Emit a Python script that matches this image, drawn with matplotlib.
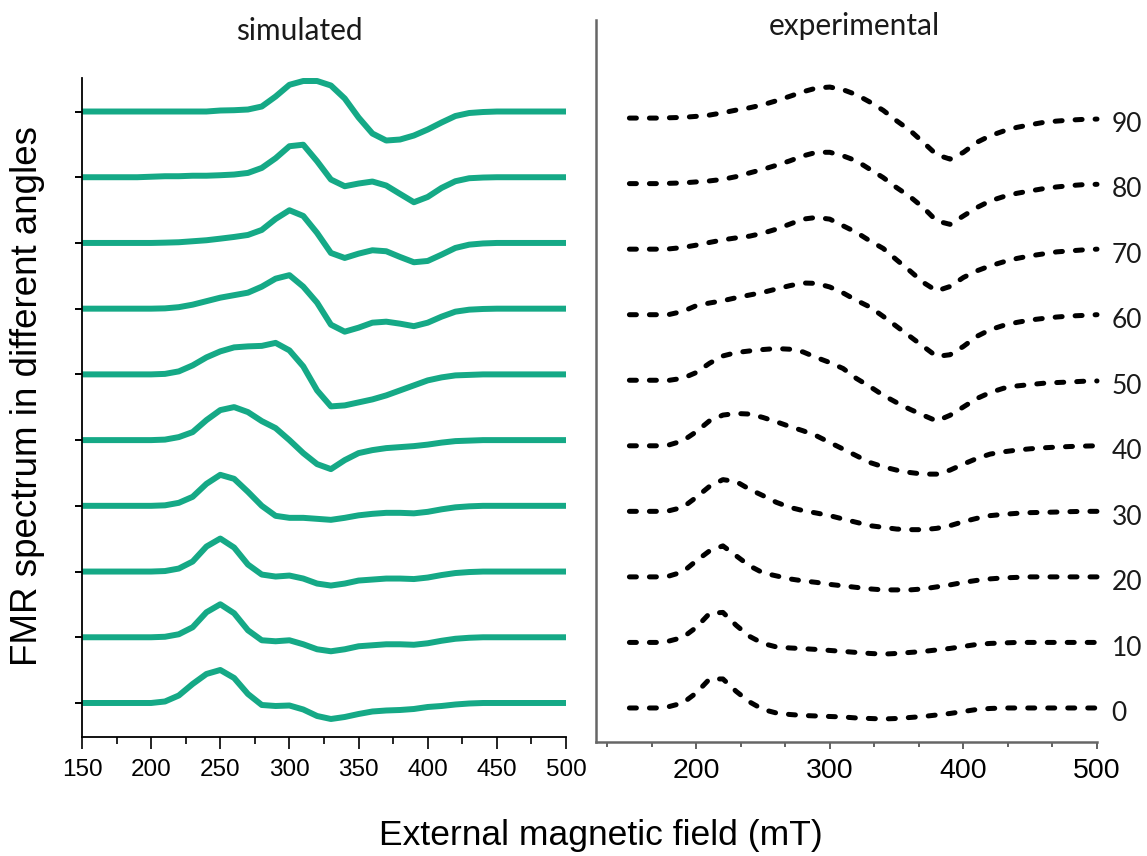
import matplotlib
matplotlib.use("Agg")
import matplotlib.pyplot as plt
import numpy as np
from matplotlib.ticker import MultipleLocator, NullFormatter

# field axis (mT), spectra sampled every 10 mT
FIELD = np.arange(150, 501, 10)
ANGLES = [0, 10, 20, 30, 40, 50, 60, 70, 80, 90]

# simulated FMR derivative spectra (a.u.), one list per angle
SIM = {
    0:  [0, 0, 0, 0, 0, 0, 1.5, 7.5, 19, 29, 33, 25, 9, -2, -3, -2.5, -6.5, -13, -16, -14,
         -11, -8.5, -7.5, -7, -6, -4, -3, -1.5, -0.5, 0, 0, 0, 0, 0, 0, 0],
    10: [0, 0, 0, 0, 0, 0, 0.5, 3, 10, 25, 33, 24, 7, -3, -4, -3, -7, -12, -14, -12,
         -9, -8, -7, -7, -7.5, -6, -3.5, -1.5, -0.5, 0, 0, 0, 0, 0, 0, 0],
    20: [0, 0, 0, 0, 0, 0, 0.5, 3, 10, 25, 33, 24, 7, -3, -5, -4, -7, -12, -14, -12,
         -9, -8, -7, -7, -7.5, -6, -3.5, -1.5, -0.5, 0, 0, 0, 0, 0, 0, 0],
    30: [0, 0, 0, 0, 0, 0, 0.5, 3, 9, 22, 31, 27, 14, 0, -10, -12, -12, -13, -14, -12,
         -9.5, -8, -7, -7, -7.5, -6, -3.5, -1.5, -0.5, 0, 0, 0, 0, 0, 0, 0],
    40: [0, 0, 0, 0, 0, 0, 0.5, 3, 8, 20, 30, 33, 28, 19, 12, 0, -13, -24, -29, -20,
         -13, -10, -8, -7, -6, -4.5, -2.5, -1, -0.5, 0, 0, 0, 0, 0, 0, 0],
    50: [0, 0, 0, 0, 0, 0, 0.5, 3, 9, 17, 23, 27, 28, 28.5, 31.5, 24, 8, -16, -32, -31,
         -28, -25, -21, -16, -11, -6, -3, -1, -0.5, 0, 0, 0, 0, 0, 0, 0],
    60: [0, 0, 0, 0, 0, 0, 0.3, 1.5, 4, 7.5, 11, 13.5, 16, 22, 30, 33.5, 22, 6, -16, -23,
         -19, -14, -13, -15, -17.5, -14, -8, -3, -1, -0.3, 0, 0, 0, 0, 0, 0],
    70: [0, 0, 0, 0, 0, 0, 0.3, 0.7, 1.7, 2.7, 4.3, 6, 8, 13, 24, 32.7, 27, 10, -10, -15,
         -10.7, -7.3, -8.3, -14, -19.3, -18, -11.7, -5, -1.7, -0.5, 0, 0, 0, 0, 0, 0],
    80: [0, 0, 0, 0, 0, 0.5, 1, 1, 1.5, 1.5, 2, 2.7, 4.3, 9.3, 19, 31, 32.5, 16, -2.3, -9,
         -6.3, -4.3, -8.3, -16.7, -25, -19.7, -10.7, -4, -1, -0.3, 0, 0, 0, 0, 0, 0],
    90: [0, 0, 0, 0, 0, 0, 0, 0, 0, 0, 1, 1.3, 2, 5, 15, 26.7, 30.5, 30.5, 26, 13,
         -6, -22, -29, -28, -24, -18, -11, -4.5, -1.5, -0.5, 0, 0, 0, 0, 0, 0],
}

# measured FMR derivative spectra (a.u.)
EXP = {
    0:  [0, 0, 0, 1.5, 5, 15, 29, 29, 16.5, 6, -1.5, -5, -6.5, -7.5, -8, -8.5, -9, -10, -10.5, -11,
         -10.5, -9.5, -8.5, -7, -5.5, -3.5, -1.5, -0.5, 0, 0, 0, 0, 0, 0, 0, 0],
    10: [0, 0, 0, 1.5, 5, 15, 29, 30, 17, 6, -1, -4.5, -5.5, -6.2, -7, -8, -9, -10, -11, -11.7,
         -11, -10, -9, -7.5, -6, -4, -2, -1, -0.5, 0, 0, 0, 0, 0, 0, 0],
    20: [0, 0, 0, 1, 5, 16, 26, 31, 21, 11, 4, 1, -2, -4, -5.5, -7.5, -9, -10.5, -12, -13,
         -13, -13, -12, -10, -8, -5.5, -3.5, -2, -1, -0.5, 0, 0, 0, 0, 0, 0],
    30: [0, 0, 0, 0.7, 4, 14, 25, 31.7, 29.7, 22, 15.7, 9, 4, 0.7, -1.7, -4.3, -7.7, -11, -14.3, -16,
         -17.7, -18.3, -18.3, -17, -14.3, -10.3, -7, -4.3, -3, -2, -1.3, -1, -0.7, -0.3, 0, 0],
    40: [0, 0, 0, 1, 5, 14, 25, 30.7, 32.3, 31.7, 28.3, 24, 19.3, 15, 10, 3.3, -3.3, -10, -16.7, -21,
         -24.3, -26.7, -28.3, -28.3, -24.3, -18.3, -12.7, -8.3, -6, -4.3, -3, -2, -1.3, -0.7, -0.3, 0],
    50: [0, 0, 0, 0, 2, 7.7, 17, 24.3, 27.7, 29.3, 30.7, 31.7, 31, 28.3, 22.7, 17.7, 11.7, 1.7, -6.3, -15,
         -22.3, -29, -35, -40.7, -35, -26.7, -18.3, -12.3, -8, -5.7, -4.3, -3, -2.3, -1.7, -1, -0.7],
    60: [0, 0, 0, 0.3, 3.3, 9, 11.7, 14, 17, 19.7, 22.3, 25.7, 29, 31.7, 31.3, 27.7, 21.7, 14.3, 7.7, -1.7,
         -11.7, -21.7, -31.7, -41.7, -40, -31.7, -21.7, -15, -10.7, -7.7, -5.3, -3.7, -2.3, -1.3, -0.7, 0],
    70: [0, 0, 0, 0.3, 1.7, 4, 6.7, 9.3, 11.3, 13, 16, 20, 25, 30, 31.7, 30, 23.3, 16.7, 8.3, 0.7,
         -10.7, -21.7, -33.3, -41.7, -37.3, -28.3, -21.7, -16.7, -12.7, -9.3, -6.7, -4.7, -2.7, -1.7, -0.7, 0],
    80: [0, 0, 0, 0.3, 0.7, 1.7, 2.7, 4.3, 7, 10.7, 14.3, 18.3, 22.7, 27.7, 31.3, 31.3, 27.7, 22.7, 14.3, 6,
         -4, -13, -24, -37.3, -40.7, -32.3, -24, -17.3, -13, -9.7, -7.3, -5, -3.3, -2, -1, -0.7],
    90: [0, 0, 0, 0.3, 0.7, 1.7, 3, 5.3, 8, 10.3, 13.3, 17.3, 21.7, 26.3, 30, 31, 28.3, 23.3, 16, 7.7,
         -2.7, -12.3, -24.3, -36.7, -41, -34.3, -24.3, -17.7, -13, -9.3, -6.7, -4.3, -3, -2, -1.3, -1],
}

SIM_STEP = 65.7   # vertical offset between stacked spectra
EXP_STEP = 65.5
GREEN = "#15a986"
SANS = ["Liberation Sans", "DejaVu Sans"]
NARROW = ["Liberation Sans Narrow", "Liberation Sans", "DejaVu Sans"]
SOFT = ["Lato", "DejaVu Sans"]

fig = plt.figure(figsize=(11.47, 8.56), dpi=100)
W, H = 1147, 856
ax1 = fig.add_axes([82 / W, 1 - 737 / H, 484 / W, 659 / H])
ax2 = fig.add_axes([596 / W, 1 - 742 / H, 501 / W, 722 / H])

# ── simulated ─────────────────────────────────────────────
for k, ang in enumerate(ANGLES):
    ax1.plot(FIELD, np.array(SIM[ang]) + k * SIM_STEP, color=GREEN, lw=4.3,
             solid_joinstyle="round", solid_capstyle="butt", clip_on=False)
ax1.set_xlim(150, 500)
ax1.set_ylim(-34, 9 * SIM_STEP + 33.5)
ax1.set_yticks([k * SIM_STEP for k in range(len(ANGLES))])
ax1.yaxis.set_major_formatter(NullFormatter())
ax1.xaxis.set_major_locator(MultipleLocator(50))
ax1.xaxis.set_minor_locator(MultipleLocator(25))
ax1.tick_params(axis="y", length=5, width=1.4, direction="out")
ax1.tick_params(axis="x", which="major", length=8.5, width=1.2, pad=7.5,
                labelsize=17.5)
ax1.tick_params(axis="x", which="minor", length=4.8, width=1.2)
for lab in ax1.get_xticklabels():
    lab.set_family(NARROW)
for s in ("top", "right"):
    ax1.spines[s].set_visible(False)
for s in ("left", "bottom"):
    ax1.spines[s].set_linewidth(1.3)
    ax1.spines[s].set_color("black")

# ── experimental ──────────────────────────────────────────
for k, ang in enumerate(ANGLES):
    base = k * EXP_STEP
    ax2.plot(FIELD, np.array(EXP[ang]) + base, color="black", lw=3.6,
             linestyle=(0, (1.4, 2.6)), dash_capstyle="round", clip_on=False)
    ax2.text(511, base - 6, str(ang), fontsize=19, family=SOFT, color="#1a1a1a",
             ha="left", va="center", clip_on=False)
ax2.set_xlim(125, 500)
ax2.set_ylim(-34, 9 * EXP_STEP + 98)
ax2.set_yticks([])
ax2.xaxis.set_major_locator(MultipleLocator(100))
ax2.xaxis.set_minor_locator(MultipleLocator(100 / 3))
ax2.tick_params(axis="x", which="major", length=5, width=1.3, pad=6.5,
                labelsize=20.5, color="#555555")
ax2.tick_params(axis="x", which="minor", length=3.6, width=1.3, color="#555555")
for lab in ax2.get_xticklabels():
    lab.set_family(SANS)
for s in ("top", "right"):
    ax2.spines[s].set_visible(False)
for s in ("left", "bottom"):
    ax2.spines[s].set_linewidth(1.8)
    ax2.spines[s].set_color("#666666")

# panel titles and shared axis labels
fig.text(299 / W, 1 - 40 / H, "simulated", fontsize=21.5, family=SOFT,
         ha="center", va="baseline", color="#1a1a1a")
fig.text(854 / W, 1 - 35 / H, "experimental", fontsize=21.5, family=SOFT,
         ha="center", va="baseline", color="#1a1a1a")
fig.text(28 / W, 1 - 396 / H, "FMR spectrum in different angles", fontsize=26.5,
         family=SANS, rotation=90, ha="center", va="center")
fig.text(601 / W, 1 - 836 / H, "External magnetic field (mT)", fontsize=25.5,
         family=SANS, ha="center", va="center")

fig.savefig("out.png", dpi=100, facecolor="white")
